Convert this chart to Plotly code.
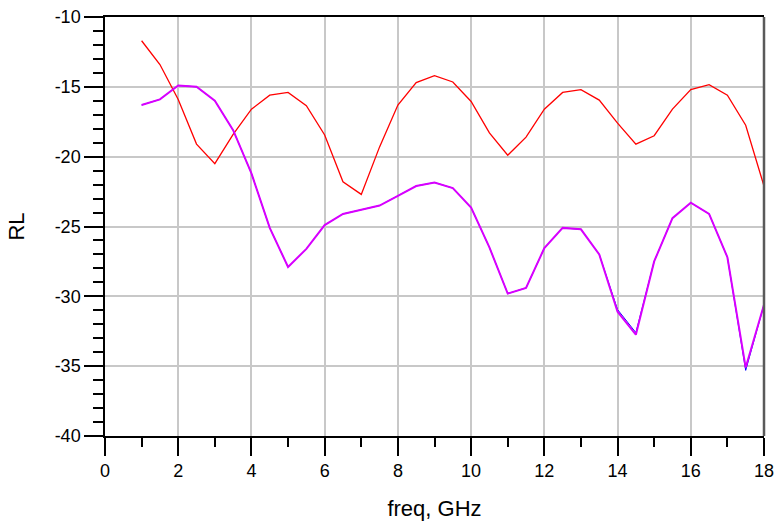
import plotly.graph_objects as go

freq = [1, 1.5, 2, 2.5, 3, 3.5, 4, 4.5, 5, 5.5, 6, 6.5, 7, 7.5, 8, 8.5, 9, 9.5, 10,
        10.5, 11, 11.5, 12, 12.5, 13, 13.5, 14, 14.5, 15, 15.5, 16, 16.5, 17, 17.5, 18]

rl_red = [-11.7, -13.4, -15.9, -19.1, -20.5, -18.4, -16.6, -15.6, -15.4, -16.35, -18.45,
          -21.8, -22.7, -19.3, -16.3, -14.7, -14.2, -14.65, -16.05, -18.3, -19.9, -18.6,
          -16.6, -15.4, -15.2, -15.95, -17.6, -19.1, -18.5, -16.6, -15.2, -14.85, -15.6,
          -17.75, -22.1]

rl_blue = [-16.3, -15.9, -14.9, -15.0, -16.0, -18.1, -21.2, -25.1, -27.9, -26.6, -24.9,
           -24.1, -23.8, -23.5, -22.8, -22.1, -21.85, -22.25, -23.65, -26.5, -29.8, -29.4,
           -26.55, -25.1, -25.2, -27.0, -30.95, -32.6, -27.5, -24.4, -23.3, -24.1, -27.2,
           -35.3, -30.6]

rl_magenta = [-16.3, -15.9, -14.9, -15.0, -16.0, -18.1, -21.2, -25.1, -27.9, -26.6, -24.9,
              -24.1, -23.8, -23.5, -22.8, -22.1, -21.85, -22.25, -23.65, -26.5, -29.8, -29.4,
              -26.55, -25.1, -25.2, -27.0, -31.1, -32.75, -27.5, -24.4, -23.3, -24.1, -27.2,
              -35.1, -30.6]

x_ticks = [0, 2, 4, 6, 8, 10, 12, 14, 16, 18]
x_ticktext = ["0", "2", "4", "6", "8", "10", "12", "14", "16", "18"]
y_ticks = [-40, -35, -30, -25, -20, -15, -10]
y_ticktext = ["-40", "-35", "-30", "-25", "-20", "-15", "-10"]

fig = go.Figure()
fig.add_trace(go.Scatter(x=freq, y=rl_red, mode="lines",
                         line=dict(color="#ff0000", width=1.3), showlegend=False))
fig.add_trace(go.Scatter(x=freq, y=rl_blue, mode="lines",
                         line=dict(color="#0000ff", width=1.0), showlegend=False))
fig.add_trace(go.Scatter(x=freq, y=rl_magenta, mode="lines",
                         line=dict(color="#d800ff", width=2.0), showlegend=False))

font = dict(family="Liberation Sans, Arial, sans-serif", size=18, color="black")

fig.update_layout(
    width=776, height=525,
    margin=dict(l=105, r=12, t=17, b=89, pad=0),
    paper_bgcolor="white", plot_bgcolor="white",
    font=font,
    xaxis=dict(
        range=[0, 18], tickvals=x_ticks, ticktext=x_ticktext,
        showgrid=True, gridcolor="#c8c8c8", gridwidth=1.5,
        showline=True, linecolor="black", linewidth=1.5, mirror=True,
        ticks="outside", ticklen=18, tickcolor="black", tickwidth=1.5,
        minor=dict(dtick=1, tick0=0, ticks="outside", ticklen=9, tickcolor="black",
                   tickwidth=1.5, showgrid=False),
        zeroline=False, automargin=False, ticklabeloverflow="allow",
        title=dict(text="freq, GHz", font=dict(size=22), standoff=20),
        tickfont=dict(size=18),
    ),
    yaxis=dict(
        range=[-40, -10], tickvals=y_ticks, ticktext=y_ticktext,
        showgrid=True, gridcolor="#c8c8c8", gridwidth=1.5,
        showline=True, linecolor="black", linewidth=1.5,
        ticks="outside", ticklen=19, tickcolor="black", tickwidth=1.5,
        minor=dict(dtick=1, tick0=-40, ticks="outside", ticklen=10, tickcolor="black",
                   tickwidth=1.5, showgrid=False),
        zeroline=False, automargin=False, ticklabeloverflow="allow",
        title=dict(text="RL", font=dict(size=22), standoff=24),
        tickfont=dict(size=18),
    ),
    shapes=[dict(type="line", xref="paper", yref="paper", x0=1, x1=1, y0=0, y1=1,
                 line=dict(color="#5a5a5a", width=2.5))],
)

fig.write_html(
    "out.html",
    config={"displayModeBar": False},
    post_script="document.body.style.margin='0px';document.body.style.overflow='hidden';",
)
